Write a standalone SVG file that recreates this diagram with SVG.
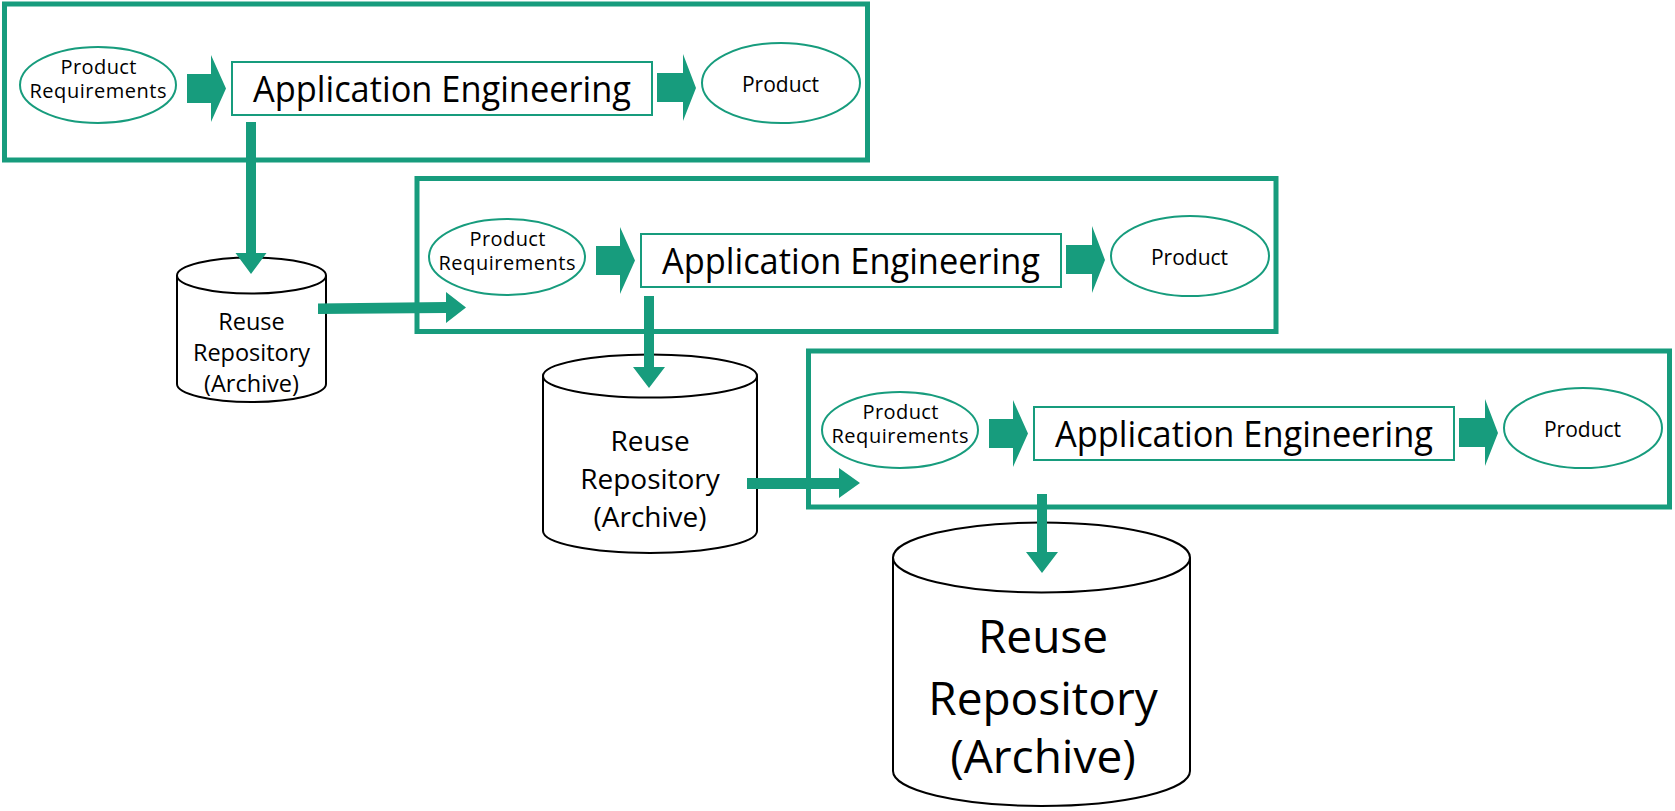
<svg xmlns="http://www.w3.org/2000/svg" width="1675" height="811" viewBox="0 0 1675 811">
  <style>
    .frame { fill: none; stroke: #179c7d; stroke-width: 5; }
    .oval { fill: #fff; stroke: #179c7d; stroke-width: 2; }
    .box { fill: #fff; stroke: #179c7d; stroke-width: 2; }
    .blk { fill: #179c7d; stroke: none; }
    .cyl { fill: #fff; stroke: #000; stroke-width: 2; }
    text { font-family: "Open Sans", "Noto Sans", "Liberation Sans", sans-serif; fill: #000; text-anchor: middle; }
    .s { font-size: 20px; }
    .p { font-size: 21px; }
    .ae { font-size: 36px; }
  </style>
  <rect width="1675" height="811" fill="#fff"/>

  <!-- Frame 1 -->
  <g id="frame1">
    <rect class="frame" x="4.5" y="4" width="863" height="156"/>
  </g>
  <g id="req1">
    <ellipse class="oval" cx="98" cy="85" rx="78" ry="38"/>
    <text class="s" x="98.5" y="73.5" textLength="76">Product</text>
    <text class="s" x="98" y="98" textLength="137">Requirements</text>
  </g>
  <g id="ae1">
    <rect class="box" x="232" y="62" width="420" height="53"/>
    <text class="ae" x="442" y="102" textLength="378" lengthAdjust="spacingAndGlyphs">Application Engineering</text>
  </g>
  <g id="prod1">
    <ellipse class="oval" cx="781" cy="83" rx="79" ry="40"/>
    <text class="p" x="780.5" y="92">Product</text>
  </g>

  <!-- Frame 2 -->
  <g id="frame2">
    <rect class="frame" x="417" y="178.5" width="859" height="153"/>
  </g>
  <g id="req2">
    <ellipse class="oval" cx="507" cy="257" rx="78" ry="38"/>
    <text class="s" x="507.5" y="245.5" textLength="76">Product</text>
    <text class="s" x="507" y="270" textLength="137">Requirements</text>
  </g>
  <g id="ae2">
    <rect class="box" x="641" y="234" width="420" height="53"/>
    <text class="ae" x="851" y="274" textLength="378" lengthAdjust="spacingAndGlyphs">Application Engineering</text>
  </g>
  <g id="prod2">
    <ellipse class="oval" cx="1190" cy="256" rx="79" ry="40"/>
    <text class="p" x="1189.5" y="265">Product</text>
  </g>

  <!-- Frame 3 -->
  <g id="frame3">
    <rect class="frame" x="808.5" y="351" width="861" height="156"/>
  </g>
  <g id="req3">
    <ellipse class="oval" cx="900" cy="430" rx="78" ry="38"/>
    <text class="s" x="900.5" y="418.5" textLength="76">Product</text>
    <text class="s" x="900" y="443" textLength="137">Requirements</text>
  </g>
  <g id="ae3">
    <rect class="box" x="1034" y="407" width="420" height="53"/>
    <text class="ae" x="1244" y="447" textLength="378" lengthAdjust="spacingAndGlyphs">Application Engineering</text>
  </g>
  <g id="prod3">
    <ellipse class="oval" cx="1583" cy="428" rx="79" ry="40"/>
    <text class="p" x="1582.5" y="437">Product</text>
  </g>

  <!-- Repositories -->
  <g id="repo1">
    <path class="cyl" d="M177,275.5 V384 A74.5,18 0 0 0 326,384 V275.5"/>
    <ellipse class="cyl" cx="251.5" cy="275.5" rx="74.5" ry="18"/>
    <text style="font-size:23.5px" x="251.5" y="330">Reuse</text>
    <text style="font-size:23.5px" x="251.5" y="361">Repository</text>
    <text style="font-size:23.5px" x="251.5" y="392">(Archive)</text>
  </g>
  <g id="repo2">
    <path class="cyl" d="M543,376 V531 A107,22 0 0 0 757,531 V376"/>
    <ellipse class="cyl" cx="650" cy="376" rx="107" ry="21.5"/>
    <text style="font-size:28px" x="650" y="451">Reuse</text>
    <text style="font-size:28px" x="650" y="489">Repository</text>
    <text style="font-size:28px" x="650" y="527">(Archive)</text>
  </g>
  <g id="repo3">
    <path class="cyl" d="M893,557.5 V771 A148.5,35 0 0 0 1190,771 V557.5"/>
    <ellipse class="cyl" cx="1041.5" cy="557.5" rx="148.5" ry="35"/>
    <text style="font-size:46px" x="1043" y="653">Reuse</text>
    <text style="font-size:46px" x="1043" y="715">Repository</text>
    <text style="font-size:46px" x="1043" y="773">(Archive)</text>
  </g>

  <!-- Connectors -->
  <g id="connectors">
    <polygon class="blk" points="187,74 211,74 211,55 226,88.5 211,122 211,103 187,103"/>
    <polygon class="blk" points="657,73 683,73 683,54 696,88 683,121 683,102 657,102"/>
    <polygon class="blk" points="596,246 620,246 620,227 635,260.5 620,294 620,275 596,275"/>
    <polygon class="blk" points="1066,245 1092,245 1092,226 1105,260 1092,293 1092,274 1066,274"/>
    <polygon class="blk" points="989,419 1013,419 1013,400 1028,433.5 1013,467 1013,448 989,448"/>
    <polygon class="blk" points="1459,418 1485,418 1485,399 1498,433 1485,466 1485,447 1459,447"/>
    <polygon class="blk" points="246,122 256,122 256,253 266.5,253 251,274 235.5,253 246,253"/>
    <polygon class="blk" points="644,296 654,296 654,367 665,367 649,388 633,367 644,367"/>
    <polygon class="blk" points="1037,494 1047,494 1047,552 1058,552 1042,573 1026,552 1037,552"/>
    <polygon class="blk" points="318,303.5 446,302 446,292 466,307.5 446,323 446,313 318,314"/>
    <polygon class="blk" points="747,478 839,478 839,468 860,483 839,498 839,489 747,489"/>
  </g>
</svg>
